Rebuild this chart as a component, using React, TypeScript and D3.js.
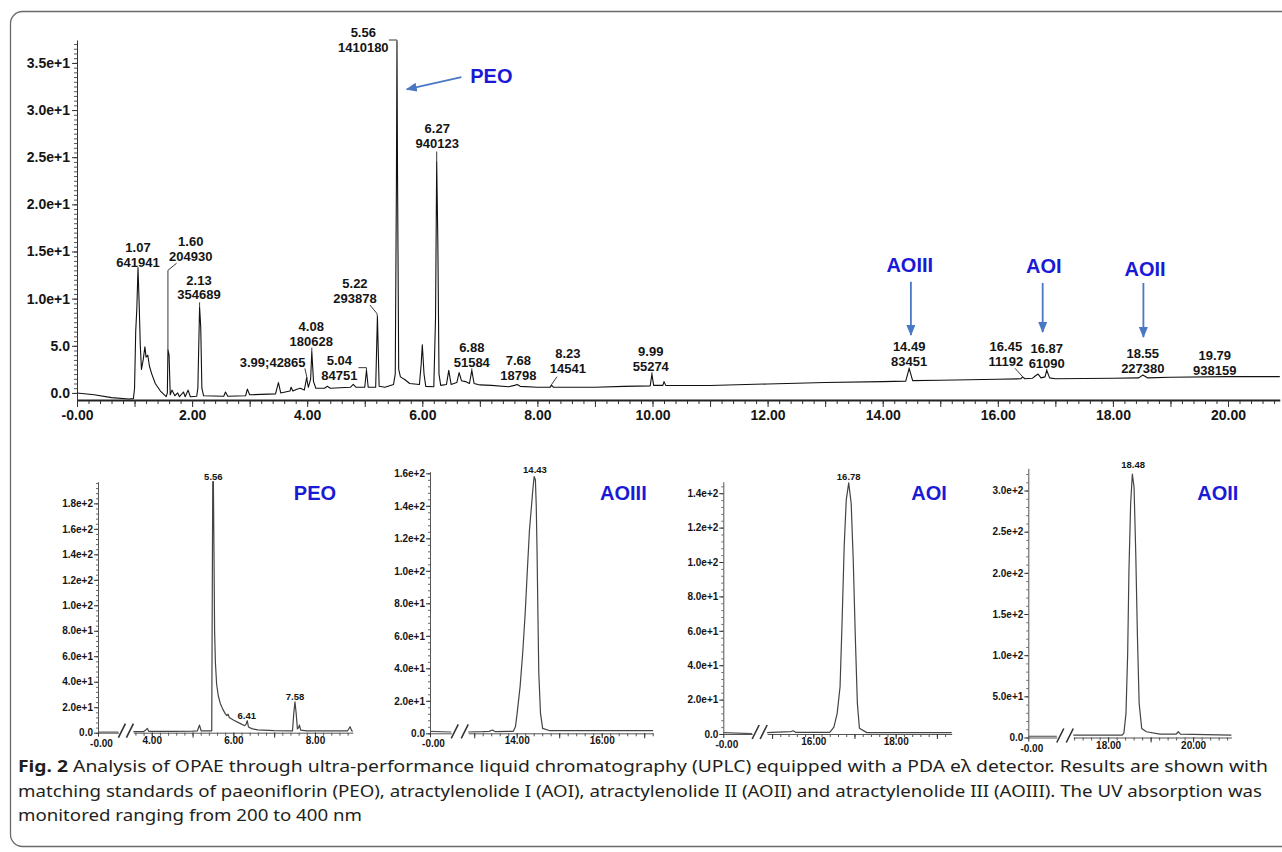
import React, { useRef, useEffect } from "react";
import * as d3 from "d3";

type Pt = [number, number];

// OPAE chromatogram: [retention time (min), signal]
const mainTrace: Pt[] = [
  [0.0, 0.0], [0.3, -0.2], [0.6, -0.5], [0.9, -0.65], [0.98, -0.6], [1.0, 0.5], [1.02, 6.5], [1.04, 9.0],
  [1.06, 13.3], [1.08, 9.5], [1.1, 5.0], [1.12, 2.5], [1.15, 3.5], [1.18, 4.9], [1.2, 3.8], [1.23, 4.0],
  [1.26, 2.8], [1.3, 2.0], [1.36, 1.0], [1.45, 0.2], [1.55, -0.4], [1.57, 0.0], [1.58, 4.6], [1.6, 4.0],
  [1.62, -0.2], [1.65, 0.3], [1.7, -0.3], [1.75, 0.0], [1.78, -0.4], [1.85, 0.1], [1.88, -0.4], [1.93, 0.3],
  [1.97, -0.4], [2.08, -0.35], [2.1, 0.5], [2.13, 9.1], [2.15, 7.0], [2.17, 0.5], [2.2, -0.3], [2.55, -0.35],
  [2.58, 0.1], [2.62, -0.35], [2.93, -0.3], [2.96, 0.4], [3.0, -0.2], [3.45, -0.1], [3.5, 1.1], [3.54, 0.0],
  [3.7, 0.2], [3.72, 0.6], [3.75, 0.2], [3.82, 0.4], [3.88, 0.5], [3.95, 0.3], [3.99, 1.6], [4.02, 0.6],
  [4.06, 1.5], [4.08, 4.4], [4.11, 1.2], [4.15, 0.5], [4.3, 0.5], [4.35, 0.7], [4.4, 0.5], [4.75, 0.6],
  [4.8, 0.9], [4.85, 0.6], [5.0, 0.6], [5.03, 2.4], [5.06, 0.6], [5.19, 0.6], [5.22, 8.1], [5.25, 0.7],
  [5.35, 0.6], [5.5, 0.9], [5.53, 2.0], [5.55, 22.0], [5.56, 37.2], [5.57, 22.6], [5.59, 2.5], [5.62, 1.7],
  [5.7, 1.4], [5.78, 1.0], [5.95, 0.9], [5.98, 3.0], [6.0, 5.1], [6.03, 2.0], [6.06, 0.7], [6.2, 0.65],
  [6.23, 8.0], [6.25, 24.5], [6.27, 16.0], [6.29, 2.0], [6.32, 0.8], [6.42, 0.9], [6.46, 2.4], [6.5, 0.9],
  [6.6, 1.1], [6.64, 2.15], [6.68, 1.3], [6.75, 1.2], [6.82, 1.0], [6.86, 2.4], [6.9, 1.0], [7.0, 0.85],
  [7.2, 0.8], [7.5, 0.65], [7.6, 0.8], [7.65, 0.9], [7.7, 0.7], [8.0, 0.6], [8.22, 0.6], [8.25, 0.8],
  [8.28, 0.6], [9.0, 0.6], [9.5, 0.7], [9.96, 0.75], [9.99, 2.0], [10.02, 0.8], [10.18, 0.8], [10.2, 1.2],
  [10.23, 0.8], [11.0, 0.78], [12.0, 0.95], [13.0, 1.1], [14.0, 1.2], [14.4, 1.25], [14.46, 2.6], [14.52, 1.3],
  [15.0, 1.35], [16.0, 1.45], [16.4, 1.5], [16.43, 1.7], [16.47, 1.5], [16.6, 1.55], [16.65, 1.8], [16.7, 2.0],
  [16.75, 1.6], [16.82, 1.7], [16.85, 2.4], [16.9, 1.6], [17.0, 1.5], [18.0, 1.55], [18.45, 1.6], [18.52, 1.9],
  [18.6, 1.6], [19.0, 1.66], [20.0, 1.73], [20.9, 1.73],
];

// integrated peaks: retention time, area, where the label sits and its leader line
const peakTimes = ["1.07", "1.60", "2.13", "3.99;42865", "4.08", "5.04", "5.22", "5.56", "6.27",
  "6.88", "7.68", "8.23", "9.99", "14.49", "16.45", "16.87", "18.55", "19.79"];
const peakAreas = ["641941", "204930", "354689", "", "180628", "84751", "293878", "1410180", "940123",
  "51584", "18798", "14541", "55274", "83451", "11192", "61090", "227380", "938159"];
const peakLabelAt: Pt[] = [
  [1.06, 13.4], [1.976, 14.04], [2.12, 9.91], [3.4, 2.7], [4.07, 4.95], [4.56, 1.42], [4.83, 9.56],
  [4.975, 36.17], [6.26, 25.99], [6.86, 2.73], [7.67, 1.42], [8.53, 2.13], [9.97, 2.3], [14.46, 2.83],
  [16.14, 2.83], [16.85, 2.66], [18.52, 2.13], [19.77, 1.95],
];
const peakLeaders: Pt[][] = [
  [], [[1.73, 13.75], [1.58, 13.0], [1.58, 4.6]], [[2.13, 9.6], [2.13, 9.15]], [[3.96, 2.6], [4.0, 1.5]],
  [[4.08, 4.8], [4.08, 4.4]], [[4.89, 2.68], [5.03, 2.68], [5.03, 2.4]], [[5.09, 9.32], [5.21, 8.44], [5.22, 8.1]],
  [[5.42, 37.43], [5.56, 37.43], [5.56, 37.2]], [[6.25, 25.6], [6.25, 24.5]], [[6.86, 2.6], [6.86, 2.4]],
  [], [[8.34, 1.72], [8.22, 0.66]], [[9.99, 2.2], [9.99, 2.0]], [[14.46, 2.7], [14.46, 2.6]],
  [[16.3, 2.61], [16.43, 1.72]], [[16.85, 2.55], [16.85, 2.4]], [], [],
];

// blue markers of the standards on the main trace
const standardNames = ["PEO", "AOIII", "AOI", "AOII"];
const standardNameAt: Pt[] = [[7.2, 32.9], [14.47, 12.82], [16.8, 12.72], [18.56, 12.37]];
const standardArrows: Pt[][] = [
  [[6.68, 33.5], [5.73, 32.2]],
  [[14.49, 11.8], [14.49, 6.14]],
  [[16.78, 11.66], [16.78, 6.46]],
  [[18.53, 11.66], [18.53, 5.93]],
];

const mainYTicks = [0, 5, 10, 15, 20, 25, 30, 35];
const mainXTicks = [0, 2, 4, 6, 8, 10, 12, 14, 16, 18, 20];

// standard runs: short piece before the axis break, then the window after it
const peoStart: Pt[] = [[0, 0.5], [0.5, 0.5]];
const peoTrace: Pt[] = [
  [3.55, 0.8], [3.8, 0.9], [3.85, 2.0], [3.89, 3.4], [3.93, 1.0], [4.5, 1.0], [5.0, 1.2], [5.12, 1.5],
  [5.17, 6.0], [5.21, 1.5], [5.47, 1.5], [5.48, 85], [5.495, 197], [5.51, 197], [5.525, 142], [5.54, 80],
  [5.56, 55], [5.59, 38], [5.63, 29], [5.68, 23], [5.74, 18.5], [5.8, 15], [5.84, 13.5], [5.87, 14.5],
  [5.9, 12], [6.0, 10], [6.15, 7.5], [6.28, 5.5], [6.31, 6.5], [6.34, 9.4], [6.37, 4.5], [6.45, 3.2],
  [6.6, 2.2], [7.0, 1.6], [7.45, 1.5], [7.48, 15], [7.51, 24.3], [7.54, 15], [7.57, 3], [7.6, 4],
  [7.62, 6], [7.65, 2], [7.8, 1.5], [8.8, 1.5], [8.86, 4.7], [8.9, 1.5], [8.93, 1.3],
];
const aoiiiStart: Pt[] = [[0, 1.2], [0.5, 0.8]];
const aoiiiTrace: Pt[] = [
  [12.86, 0.8], [13.2, 1.0], [13.35, 1.2], [13.43, 2.0], [13.5, 1.0], [13.92, 1.2], [13.97, 4], [14.01, 12.3],
  [14.08, 28.7], [14.14, 49], [14.2, 74], [14.25, 100], [14.3, 125], [14.34, 137.4], [14.38, 150], [14.41, 158],
  [14.44, 156], [14.46, 140], [14.48, 110], [14.5, 72], [14.52, 37], [14.56, 12.3], [14.61, 3], [14.78, 1.6],
  [17.21, 1.6],
];
const aoiStart: Pt[] = [[0, 0.8], [0.7, 0.2]];
const aoiTrace: Pt[] = [
  [14.88, 0.8], [15.0, 1.0], [15.3, 1.2], [15.45, 1.3], [15.51, 1.9], [15.57, 1.0], [16.4, 1.0], [16.5, 4],
  [16.58, 12], [16.65, 27.5], [16.7, 66], [16.75, 109], [16.8, 136], [16.86, 146], [16.92, 134], [16.97, 101],
  [17.02, 56.6], [17.07, 17.8], [17.12, 3.3], [17.3, 0.8], [19.36, 0.8],
];
const aoiiStart: Pt[] = [[0, 1.5], [0.67, 1.5]];
const aoiiTrace: Pt[] = [
  [17.18, 3], [18.33, 3], [18.37, 5], [18.42, 29], [18.46, 102], [18.49, 203], [18.53, 284], [18.57, 320],
  [18.61, 304], [18.65, 224], [18.69, 122], [18.73, 41.5], [18.79, 11], [18.9, 7], [19.22, 4.2], [19.6, 4],
  [19.65, 7], [19.7, 4], [20.9, 3],
];

const peoYTicks = [0, 20, 40, 60, 80, 100, 120, 140, 160, 180];
const aoiiiYTicks = [0, 20, 40, 60, 80, 100, 120, 140, 160];
const aoiYTicks = [0, 20, 40, 60, 80, 100, 120, 140];
const aoiiYTicks = [0, 50, 100, 150, 200, 250, 300];
const peoXTicks = [4, 6, 8];
const aoiiiXTicks = [14, 16];
const aoiXTicks = [16, 18];
const aoiiXTicks = [18, 20];

const peoPeakLabels = ["5.56", "6.41", "7.58"];
const peoPeakLabelAt: Pt[] = [[5.51, 198.3], [6.33, 10.7], [7.51, 25.9]];
const aoiiiPeakLabels = ["14.43"];
const aoiiiPeakLabelAt: Pt[] = [[14.43, 160.5]];
const aoiPeakLabels = ["16.78"];
const aoiPeakLabelAt: Pt[] = [[16.86, 147.4]];
const aoiiPeakLabels = ["18.48"];
const aoiiPeakLabelAt: Pt[] = [[18.59, 327.9]];

const captionLines = [
  "Analysis of OPAE through ultra-performance liquid chromatography (UPLC) equipped with a PDA eλ detector. Results are shown with",
  "matching standards of paeoniflorin (PEO), atractylenolide I (AOI), atractylenolide II (AOII) and atractylenolide III (AOIII). The UV absorption was",
  "monitored ranging from 200 to 400 nm",
];

const ARIAL = "'Liberation Sans', Arial, Helvetica, sans-serif";
const NARROW = "'Liberation Sans Narrow', 'Noto Sans', 'DejaVu Sans Condensed', 'Liberation Sans', Arial, sans-serif";
const BLUE_TEXT = "#1a1ad6";
const BLUE_ARROW = "#4a78c4";

// 0.0, 5.0, 1.0e+1 ... like the instrument software prints them
const fmtSci = (v: number) => (v < 10 ? v.toFixed(1) : d3.format(".1e")(v));
const fmtTime = (v: number) => (v === 0 ? "-0.00" : v.toFixed(2));

function App() {
  const ref = useRef<SVGSVGElement>(null);

  useEffect(() => {
    const svg = d3.select(ref.current).html("");

    // arrow head for the blue markers
    svg.append("defs").append("marker")
      .attr("id", "blueHead")
      .attr("markerUnits", "userSpaceOnUse")
      .attr("markerWidth", 11).attr("markerHeight", 9)
      .attr("refX", 10).attr("refY", 4.5)
      .attr("orient", "auto")
      .append("path").attr("d", "M0,0 L11,4.5 L0,9 Z").attr("fill", BLUE_ARROW);

    // figure frame
    svg.append("rect")
      .attr("x", 10.5).attr("y", 11.5).attr("width", 1300).attr("height", 835)
      .attr("rx", 12).attr("fill", "none").attr("stroke", "#6a6a6a").attr("stroke-width", 1.3);

    // ---------- main chromatogram ----------
    const x = d3.scaleLinear().domain([0, 20.9]).range([77, 1279.8]);
    const y = d3.scaleLinear().domain([-0.75, 37.43]).range([400, 40]);
    const line = d3.line<Pt>().x((d) => x(d[0])).y((d) => y(d[1]));
    const main = svg.append("g");

    const styleAxis = (g: any, size: number) => {
      g.attr("font-family", ARIAL).attr("font-size", size).attr("font-weight", "bold");
      g.selectAll("line").attr("stroke", "#333");
      g.selectAll("text").attr("fill", "#151515");
    };

    main.append("g").attr("transform", "translate(77,0)")
      .call(d3.axisLeft(y).tickValues(d3.range(0, 37.1, 0.5)).tickSize(3).tickSizeOuter(0).tickFormat(() => ""))
      .call((g) => g.select(".domain").remove())
      .call((g) => g.selectAll("line").attr("stroke", "#555"));
    main.append("g").attr("transform", "translate(77,0)")
      .call(d3.axisLeft(y).tickValues(mainYTicks).tickSize(5).tickSizeOuter(0).tickPadding(2).tickFormat((d) => fmtSci(+d)))
      .call((g) => g.select(".domain").attr("stroke", "#333"))
      .call((g) => styleAxis(g, 14));

    const xBase = y(-0.75);
    main.append("g").attr("transform", `translate(0,${xBase})`)
      .call(d3.axisBottom(x).tickValues(d3.range(0, 20.9, 0.2)).tickSize(4).tickSizeOuter(0).tickFormat(() => ""))
      .call((g) => g.select(".domain").remove())
      .call((g) => g.selectAll("line").attr("stroke", "#333"));
    main.append("g").attr("transform", `translate(0,${xBase})`)
      .call(d3.axisBottom(x).tickValues(d3.range(0, 21, 1)).tickSize(7).tickSizeOuter(0)
        .tickFormat((d) => (mainXTicks.includes(+d) ? fmtTime(+d) : "")))
      .call((g) => g.select(".domain").attr("stroke", "#222").attr("stroke-width", 2))
      .call((g) => styleAxis(g, 14));

    main.append("path").datum(mainTrace)
      .attr("d", line).attr("fill", "none")
      .attr("stroke", "#111").attr("stroke-width", 1.1).attr("stroke-linejoin", "round");

    // leader lines and peak labels
    peakLeaders.forEach((pts) => {
      if (pts.length < 2) return;
      main.append("path").datum(pts).attr("d", line)
        .attr("fill", "none").attr("stroke", "#222").attr("stroke-width", 0.9);
    });
    peakTimes.forEach((rt, i) => {
      const [lt, lv] = peakLabelAt[i];
      const t = main.append("text")
        .attr("x", x(lt)).attr("y", y(lv))
        .attr("text-anchor", "middle")
        .attr("font-family", ARIAL).attr("font-size", 13).attr("font-weight", "bold")
        .attr("fill", "#151515");
      if (peakAreas[i] === "") {
        t.text(rt);
      } else {
        t.append("tspan").attr("x", x(lt)).attr("y", y(lv) - 14.8).text(rt);
        t.append("tspan").attr("x", x(lt)).attr("y", y(lv)).text(peakAreas[i]);
      }
    });

    standardNames.forEach((name, i) => {
      main.append("text")
        .attr("x", x(standardNameAt[i][0])).attr("y", y(standardNameAt[i][1]))
        .attr("text-anchor", "middle")
        .attr("font-family", ARIAL).attr("font-size", 20).attr("font-weight", "bold")
        .attr("fill", BLUE_TEXT).text(name);
      main.append("path").datum(standardArrows[i]).attr("d", line)
        .attr("fill", "none").attr("stroke", BLUE_ARROW).attr("stroke-width", 1.8)
        .attr("marker-end", "url(#blueHead)");
    });

    // ---------- standards, each with a broken time axis ----------
    const panels = [
      { name: "PEO", start: peoStart, trace: peoTrace, yTicks: peoYTicks, yMinor: 4, xTicks: peoXTicks,
        labels: peoPeakLabels, labelAt: peoPeakLabelAt, nameAt: [8.0, 182.8],
        leftEnd: 0.5, window: [3.55, 8.93], yTop: 197, axisX: 98, y0: 732.7, top: 481.7, ppu: 40.8, gap: 15 },
      { name: "AOIII", start: aoiiiStart, trace: aoiiiTrace, yTicks: aoiiiYTicks, yMinor: 4, xTicks: aoiiiXTicks,
        labels: aoiiiPeakLabels, labelAt: aoiiiPeakLabelAt, nameAt: [16.51, 143.8],
        leftEnd: 0.5, window: [12.86, 17.21], yTop: 161, axisX: 430, y0: 733.3, top: 471.7, ppu: 42.5, gap: 17 },
      { name: "AOI", start: aoiStart, trace: aoiTrace, yTicks: aoiYTicks, yMinor: 4, xTicks: aoiXTicks,
        labels: aoiPeakLabels, labelAt: aoiPeakLabelAt, nameAt: [18.81, 136.2],
        leftEnd: 0.7, window: [14.88, 19.36], yTop: 146.7, axisX: 723.3, y0: 734, top: 481.7, ppu: 41.2, gap: 15 },
      { name: "AOII", start: aoiiStart, trace: aoiiTrace, yTicks: aoiiYTicks, yMinor: 10, xTicks: aoiiXTicks,
        labels: aoiiPeakLabels, labelAt: aoiiPeakLabelAt, nameAt: [20.58, 287.9],
        leftEnd: 0.67, window: [17.18, 20.9], yTop: 327, axisX: 1028.3, y0: 737.5, top: 468.3, ppu: 42.5, gap: 16.5 },
    ];

    panels.forEach((p) => {
      const g = svg.append("g");
      const ys = d3.scaleLinear().domain([0, p.yTop]).range([p.y0, p.top]);
      const xl = d3.scaleLinear().domain([0, p.leftEnd]).range([p.axisX, p.axisX + p.leftEnd * p.ppu]);
      const rStart = p.axisX + p.leftEnd * p.ppu + p.gap;
      const xr = d3.scaleLinear().domain(p.window)
        .range([rStart, rStart + (p.window[1] - p.window[0]) * p.ppu]);

      // y axis
      g.append("g").attr("transform", `translate(${p.axisX},0)`)
        .call(d3.axisLeft(ys).tickValues(d3.range(0, p.yTop, p.yMinor)).tickSize(2).tickSizeOuter(0).tickFormat(() => ""))
        .call((s) => s.select(".domain").remove())
        .call((s) => s.selectAll("line").attr("stroke", "#666"));
      g.append("g").attr("transform", `translate(${p.axisX},0)`)
        .call(d3.axisLeft(ys).tickValues(p.yTicks).tickSize(4).tickSizeOuter(0).tickPadding(1).tickFormat((d) => fmtSci(+d)))
        .call((s) => s.select(".domain").attr("stroke", "#555"))
        .call((s) => styleAxis(s, 10));

      // broken x axis
      g.append("g").attr("transform", `translate(0,${p.y0})`)
        .call(d3.axisBottom(xl).tickValues([0]).tickSize(4).tickSizeOuter(0).tickPadding(3).tickFormat((d) => fmtTime(+d)))
        .call((s) => s.select(".domain").attr("stroke", "#555"))
        .call((s) => styleAxis(s, 10))
        .call((s) => s.selectAll("text").attr("dx", 3));
      const minor = d3.range(Math.ceil(p.window[0] / 0.2) * 0.2, p.window[1], 0.2);
      g.append("g").attr("transform", `translate(0,${p.y0})`)
        .call(d3.axisBottom(xr).tickValues(minor).tickSize(3).tickSizeOuter(0).tickFormat(() => ""))
        .call((s) => s.select(".domain").remove())
        .call((s) => s.selectAll("line").attr("stroke", "#555"));
      g.append("g").attr("transform", `translate(0,${p.y0})`)
        .call(d3.axisBottom(xr).tickValues(d3.range(Math.ceil(p.window[0]), p.window[1], 1)).tickSize(5).tickSizeOuter(0)
          .tickPadding(-1).tickFormat((d) => (p.xTicks.includes(+d) ? fmtTime(+d) : "")))
        .call((s) => s.select(".domain").attr("stroke", "#555"))
        .call((s) => styleAxis(s, 10));

      // the "//" break marks
      [xl(p.leftEnd), rStart - 7].forEach((bx) => {
        g.append("line")
          .attr("x1", bx).attr("y1", p.y0 + 5).attr("x2", bx + 7).attr("y2", p.y0 - 9)
          .attr("stroke", "#333").attr("stroke-width", 1.6);
      });

      const lineL = d3.line<Pt>().x((d) => xl(d[0])).y((d) => ys(d[1]));
      const lineR = d3.line<Pt>().x((d) => xr(d[0])).y((d) => ys(d[1]));
      g.append("path").datum(p.start).attr("d", lineL)
        .attr("fill", "none").attr("stroke", "#555").attr("stroke-width", 1.1);
      g.append("path").datum(p.trace).attr("d", lineR)
        .attr("fill", "none").attr("stroke", "#444").attr("stroke-width", 1.2).attr("stroke-linejoin", "round");

      p.labels.forEach((lab, i) => {
        g.append("text")
          .attr("x", xr(p.labelAt[i][0])).attr("y", ys(p.labelAt[i][1]))
          .attr("text-anchor", "middle")
          .attr("font-family", ARIAL).attr("font-size", 9.5).attr("font-weight", "bold")
          .attr("fill", "#151515").text(lab);
      });

      g.append("text")
        .attr("x", xr(p.nameAt[0])).attr("y", ys(p.nameAt[1]))
        .attr("text-anchor", "middle")
        .attr("font-family", ARIAL).attr("font-size", 20).attr("font-weight", "bold")
        .attr("fill", BLUE_TEXT).text(p.name);
    });

    // ---------- caption ----------
    const capWidths = [1250, 1244, 344];
    captionLines.forEach((txt, i) => {
      const t = svg.append("text")
        .attr("x", 18).attr("y", 772 + i * 24.5)
        .attr("font-family", NARROW).attr("font-size", 16)
        .attr("font-stretch", "condensed")
        .attr("fill", "#231f20")
        .attr("textLength", capWidths[i]).attr("lengthAdjust", "spacingAndGlyphs");
      if (i === 0) {
        t.append("tspan").attr("font-weight", "bold").text("Fig. 2");
        t.append("tspan").text("  " + txt);
      } else {
        t.text(txt);
      }
    });
  }, []);

  return (
    <svg
      ref={ref}
      width={1282}
      height={852}
      style={{ position: "absolute", left: 0, top: 0, background: "#fff" }}
    />
  );
}

export default App;
